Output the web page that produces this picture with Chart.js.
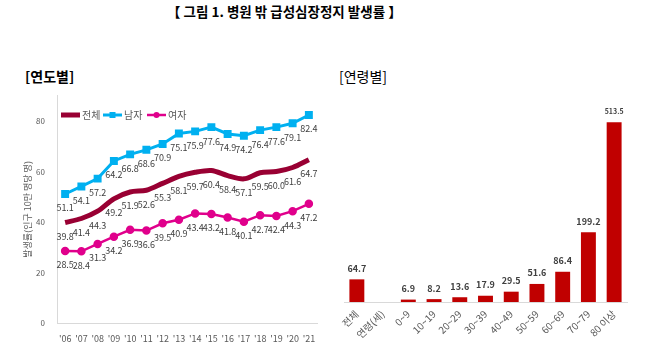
<!DOCTYPE html>
<html>
<head>
<meta charset="utf-8">
<script src="https://cdn.jsdelivr.net/npm/chart.js@4.4.1/dist/chart.umd.min.js"></script>
<style>
body{margin:0;background:#fff;width:655px;height:362px;position:relative;overflow:hidden;font-family:"Noto Sans CJK KR",sans-serif}
.t{position:absolute;white-space:nowrap;color:#000;line-height:1}
#title{left:167px;top:5px;font-size:13.5px;font-weight:bold}
#lt{left:25px;top:69px;font-size:14px;font-weight:bold}
#rt{left:339px;top:69px;font-size:14px}
#c1{position:absolute;left:0;top:79px}
#c2{position:absolute;left:330px;top:90px}
</style>
</head>
<body>
<div class="t" id="title">【 그림 1. 병원 밖 급성심장정지 발생률 】</div>
<div class="t" id="lt">[연도별]</div>
<div class="t" id="rt">[연령별]</div>
<canvas id="c1" width="330" height="269"></canvas>
<canvas id="c2" width="325" height="272"></canvas>
<script>
// 연도별
const years = ["'06","'07","'08","'09","'10","'11","'12","'13","'14","'15","'16","'17","'18","'19","'20","'21"];
const total = [39.8,41.4,44.3,49.2,51.9,52.6,55.3,58.1,59.7,60.4,58.4,57.1,59.5,60.0,61.6,64.7];
const male = [51.1,54.1,57.2,64.2,66.8,68.6,70.9,75.1,75.9,77.6,74.9,74.2,76.4,77.6,79.1,82.4];
const female = [28.5,28.4,31.3,34.2,36.9,36.6,39.5,40.9,43.4,43.2,41.8,40.1,42.7,42.4,44.3,47.2];
const yTicks = [0,20,40,60,80];

// 연령별
const ageLabels = ['전체','연령(세)','0~9','10~19','20~29','30~39','40~49','50~59','60~69','70~79','80 이상'];
const ageRate = [64.7,null,6.9,8.2,13.6,17.9,29.5,51.6,86.4,199.2,513.5];

const FONT = '"Noto Sans CJK KR", sans-serif';
const gray = '#595959';
const lblColor = '#404040';

// 점 아래에 값 표시
const lineLabels = {
  id: 'lineLabels',
  afterDatasetsDraw(chart) {
    const ctx = chart.ctx;
    ctx.save();
    ctx.font = '9px ' + FONT;
    ctx.fillStyle = lblColor;
    ctx.textAlign = 'center';
    ctx.textBaseline = 'middle';
    chart.data.datasets.forEach((ds, i) => {
      chart.getDatasetMeta(i).data.forEach((pt, j) => {
        ctx.fillText(ds.data[j].toFixed(1), pt.x, pt.y + 14);
      });
    });
    ctx.restore();
  }
};

// 차트 안쪽 범례
const innerLegend = {
  id: 'innerLegend',
  afterDraw(chart) {
    const ctx = chart.ctx;
    const y = 36;
    const items = [
      {x: 61, text: '전체', color: '#990033', w: 5, mk: null},
      {x: 103, text: '남자', color: '#00B0F0', w: 3, mk: 'sq'},
      {x: 147, text: '여자', color: '#E0008C', w: 2.5, mk: 'ci'}
    ];
    ctx.save();
    ctx.font = '10px ' + FONT;
    ctx.textBaseline = 'middle';
    items.forEach(it => {
      ctx.strokeStyle = it.color;
      ctx.lineWidth = it.w;
      ctx.beginPath();
      ctx.moveTo(it.x, y);
      ctx.lineTo(it.x + 19, y);
      ctx.stroke();
      ctx.fillStyle = it.color;
      if (it.mk === 'sq') ctx.fillRect(it.x + 6.5, y - 3, 6, 6);
      if (it.mk === 'ci') { ctx.beginPath(); ctx.arc(it.x + 9.5, y, 3, 0, Math.PI * 2); ctx.fill(); }
      ctx.fillStyle = gray;
      ctx.fillText(it.text, it.x + 21, y);
    });
    ctx.restore();
  }
};

new Chart(document.getElementById('c1'), {
  type: 'line',
  data: {
    labels: years,
    datasets: [
      {label: '전체', data: total, borderColor: '#990033', backgroundColor: '#990033', borderWidth: 5, pointRadius: 0, tension: 0.3},
      {label: '남자', data: male, borderColor: '#00B0F0', backgroundColor: '#00B0F0', borderWidth: 3, pointStyle: 'rect', pointRadius: 3.5, tension: 0},
      {label: '여자', data: female, borderColor: '#E0008C', backgroundColor: '#E0008C', borderWidth: 2.5, pointStyle: 'circle', pointRadius: 3, tension: 0}
    ]
  },
  options: {
    responsive: false,
    animation: false,
    layout: {padding: {top: 0, right: 13, left: 0, bottom: 0}},
    plugins: {legend: {display: false}, tooltip: {enabled: false}},
    scales: {
      x: {
        offset: true,
        grid: {display: true, drawOnChartArea: false, drawTicks: false},
        border: {color: '#D9D9D9'},
        ticks: {color: gray, font: {size: 9, family: FONT}, padding: 10, maxRotation: 0, autoSkip: false},
        afterFit: s => { s.height = 25; }
      },
      y: {
        min: 0, max: 90,
        grid: {display: true, drawOnChartArea: false, drawTicks: false},
        border: {color: '#D9D9D9'},
        ticks: {stepSize: 20, color: gray, padding: 12, font: {size: 8, family: FONT},
          callback: v => yTicks.includes(v) ? v : ''},
        title: {display: true, text: '발생률(인구 10만 명당 명)', color: gray, font: {size: 9, family: FONT}, padding: {top: 22, bottom: 0}},
        afterFit: s => { s.width = 57; }
      }
    }
  },
  plugins: [lineLabels, innerLegend]
});

// 막대 위 값 표시
const barLabels = {
  id: 'barLabels',
  afterDatasetsDraw(chart) {
    const ctx = chart.ctx;
    const ds = chart.data.datasets[0];
    ctx.save();
    ctx.fillStyle = lblColor;
    ctx.textAlign = 'center';
    ctx.textBaseline = 'middle';
    chart.getDatasetMeta(0).data.forEach((bar, j) => {
      const v = ds.data[j];
      if (v == null) return;
      ctx.font = 'bold ' + (v > 500 ? 7 : 9) + 'px ' + FONT;
      ctx.fillText(v.toFixed(1), bar.x, bar.y - 11);
    });
    ctx.restore();
  }
};

new Chart(document.getElementById('c2'), {
  type: 'bar',
  data: {
    labels: ageLabels,
    datasets: [{data: ageRate, backgroundColor: '#C00000', categoryPercentage: 1, barPercentage: 0.58}]
  },
  options: {
    responsive: false,
    animation: false,
    layout: {padding: {top: 2, right: 28, left: 14, bottom: 0}},
    plugins: {legend: {display: false}, tooltip: {enabled: false}},
    scales: {
      x: {
        grid: {display: true, drawOnChartArea: false, drawTicks: false},
        border: {color: '#D9D9D9'},
        ticks: {color: gray, font: {size: 10, family: FONT}, padding: 6, minRotation: 45, maxRotation: 45, autoSkip: false},
        afterFit: s => { s.height = 60; }
      },
      y: {
        display: false,
        min: 0, max: 600
      }
    }
  },
  plugins: [barLabels]
});
</script>
</body>
</html>
